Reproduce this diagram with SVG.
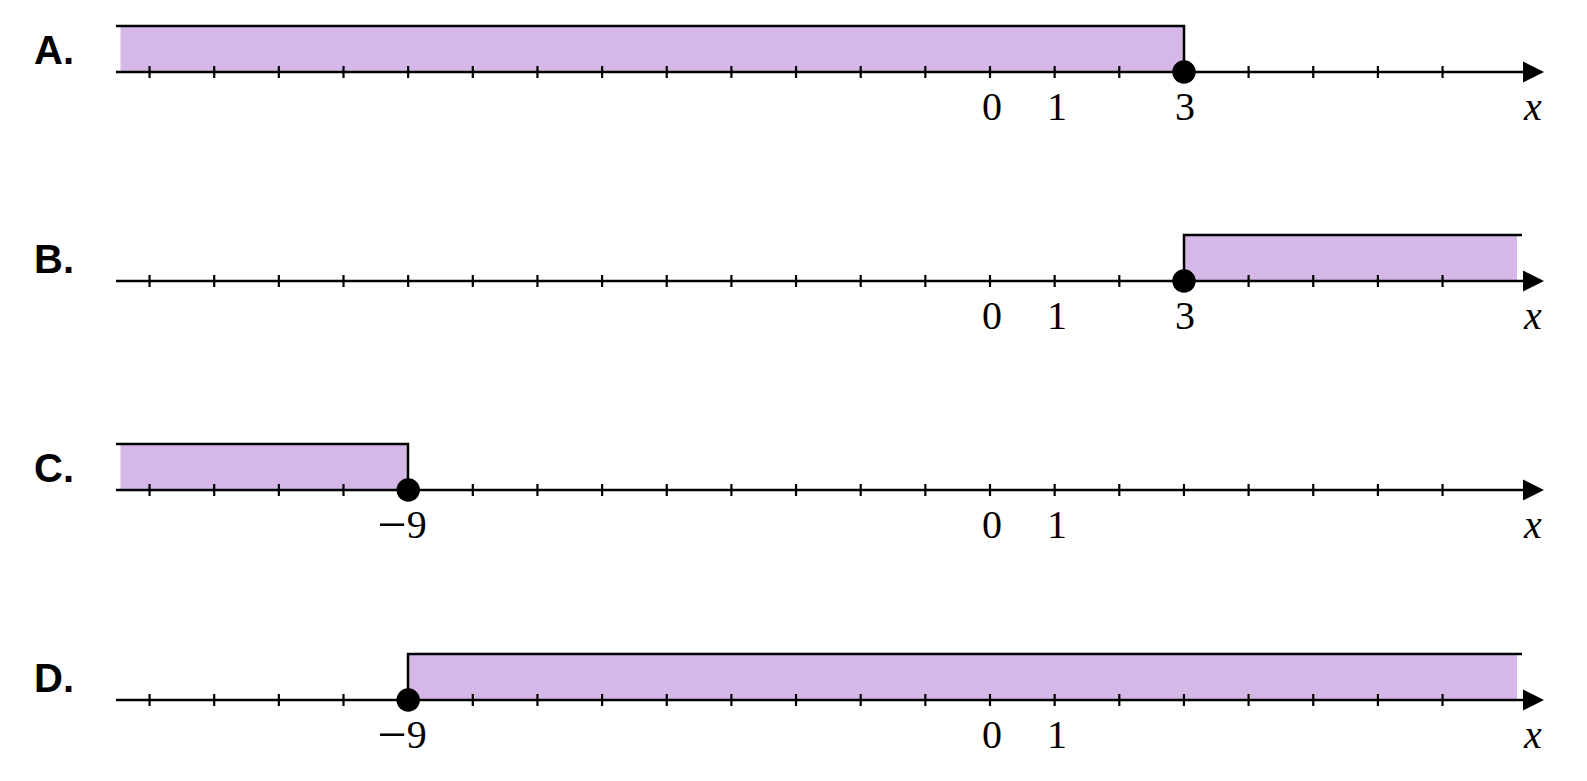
<svg xmlns="http://www.w3.org/2000/svg" xmlns:xlink="http://www.w3.org/1999/xlink" width="1587" height="781" viewBox="0 0 1587 781">
<style>
.bg{fill:#ffffff}
.fill{fill:#d5b8e8;stroke:none}
.edge{fill:none;stroke:#000;stroke-width:2.5;stroke-linecap:butt;stroke-linejoin:miter}
.axis{fill:none;stroke:#000;stroke-width:2.5}
.tick{fill:none;stroke:#000;stroke-width:2.2}
.dot{fill:#000}
.lbl{font-family:"Liberation Sans",Arial,sans-serif;font-weight:bold;font-size:40px;fill:#000}
.num{font-family:"Liberation Serif","Times New Roman",serif;font-size:40px;fill:#000;text-anchor:middle}
.minus{font-size:52px}
.var{font-family:"Liberation Serif","Times New Roman",serif;font-style:italic;font-size:40px;fill:#000;text-anchor:middle}
</style>
<defs>
<g id="numberline">
<path class="axis" d="M116 0 H1526"/>
<path class="tick" d="M149.55 -6V6M214.2 -6V6M278.85 -6V6M343.5 -6V6M408.15 -6V6M472.8 -6V6M537.45 -6V6M602.1 -6V6M666.75 -6V6M731.4 -6V6M796.05 -6V6M860.7 -6V6M925.35 -6V6M990 -6V6M1054.65 -6V6M1119.3 -6V6M1183.95 -6V6M1248.6 -6V6M1313.25 -6V6M1377.9 -6V6M1442.55 -6V6"/>
<polygon points="1523,-10.5 1544,0 1523,10.5" fill="#000"/>
<text class="num" x="992" y="48">0</text>
<text class="num" x="1057" y="48">1</text>
<text class="var" x="1533" y="48">x</text>
</g>
</defs>
<rect class="bg" x="0" y="0" width="1587" height="781"/>

<g id="rowA" transform="translate(0,72)">
<rect class="fill" x="120.5" y="-46" width="1063.5" height="46"/>
<use xlink:href="#numberline" href="#numberline"/>
<path class="edge" d="M116 -46 H1184 V0"/>
<circle class="dot" cx="1184" cy="0" r="11.7"/>
<text class="num" x="1185" y="48">3</text>
<text class="lbl" x="34" y="-8">A.</text>
</g>

<g id="rowB" transform="translate(0,281)">
<rect class="fill" x="1184" y="-46" width="333" height="46"/>
<use xlink:href="#numberline" href="#numberline"/>
<path class="edge" d="M1522 -46 H1184 V0"/>
<circle class="dot" cx="1184" cy="0" r="11.7"/>
<text class="num" x="1185" y="48">3</text>
<text class="lbl" x="34" y="-8">B.</text>
</g>

<g id="rowC" transform="translate(0,490)">
<rect class="fill" x="120.5" y="-46" width="287.5" height="46"/>
<use xlink:href="#numberline" href="#numberline"/>
<path class="edge" d="M116 -46 H408 V0"/>
<circle class="dot" cx="408.2" cy="0" r="11.7"/>
<text class="num" x="402" y="48"><tspan class="minus" dy="4">−</tspan><tspan dy="-4">9</tspan></text>
<text class="lbl" x="34" y="-8">C.</text>
</g>

<g id="rowD" transform="translate(0,700)">
<rect class="fill" x="408" y="-46" width="1109" height="46"/>
<use xlink:href="#numberline" href="#numberline"/>
<path class="edge" d="M1522 -46 H408 V0"/>
<circle class="dot" cx="408.2" cy="0" r="11.7"/>
<text class="num" x="402" y="48"><tspan class="minus" dy="4">−</tspan><tspan dy="-4">9</tspan></text>
<text class="lbl" x="34" y="-8">D.</text>
</g>
</svg>
